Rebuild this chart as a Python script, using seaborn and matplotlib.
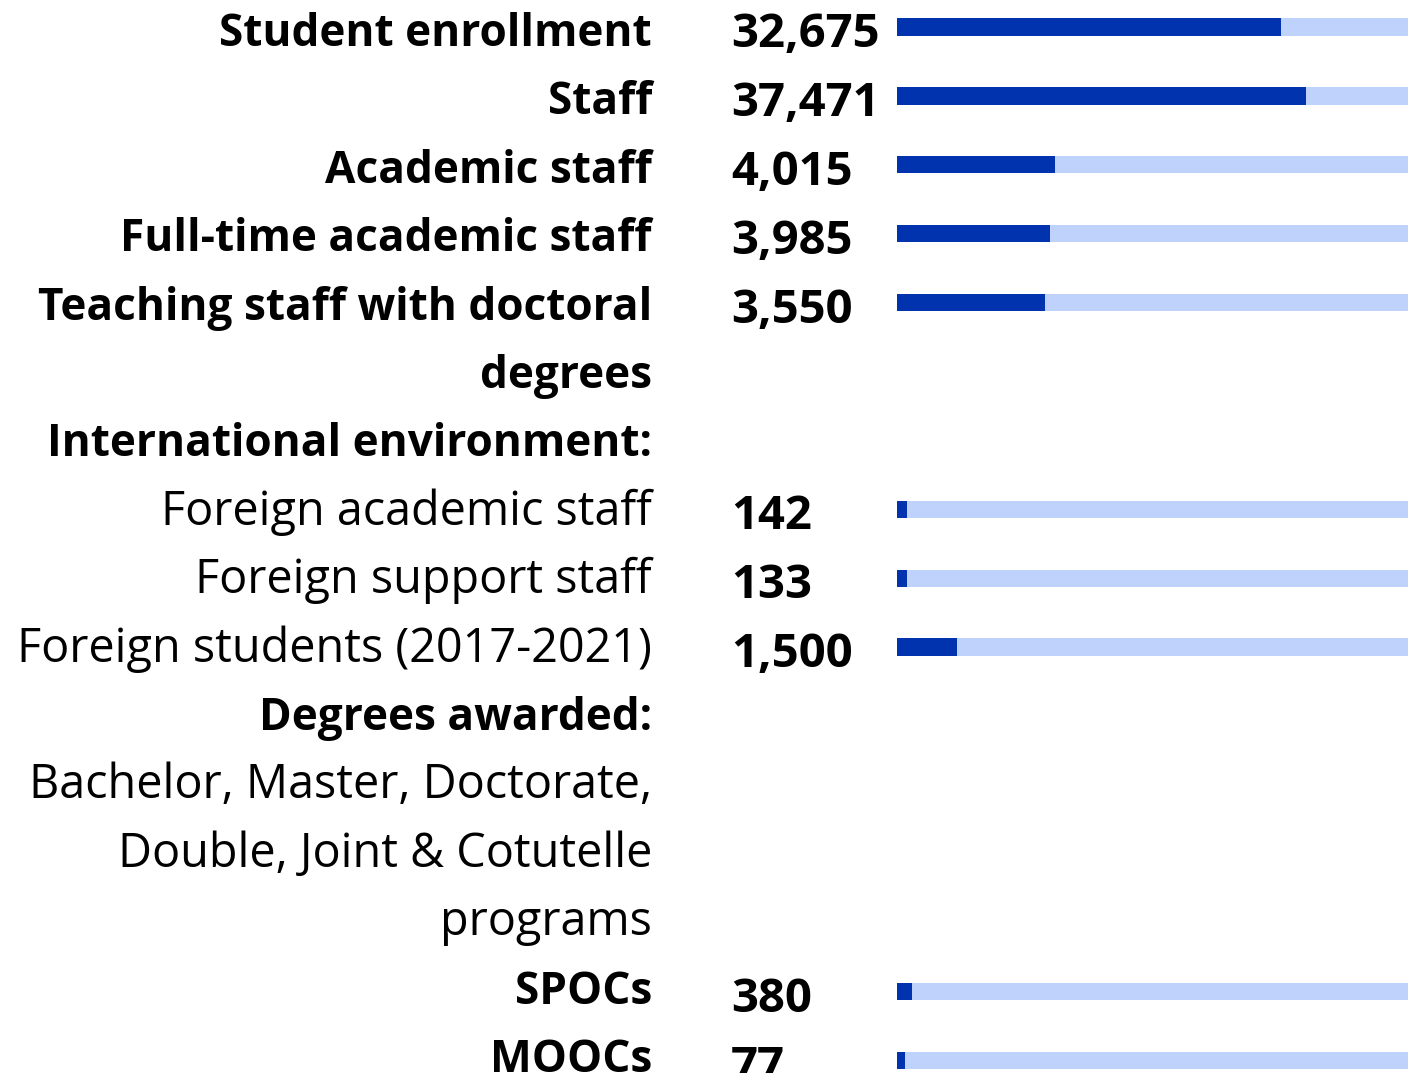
import matplotlib
matplotlib.use("Agg")
import matplotlib.pyplot as plt
import seaborn as sns
import pandas as pd

# ---- data ----
label_lines = [
    "Student enrollment", "Staff", "Academic staff", "Full-time academic staff",
    "Teaching staff with doctoral", "degrees", "International environment:",
    "Foreign academic staff", "Foreign support staff", "Foreign students (2017-2021)",
    "Degrees awarded:", "Bachelor, Master, Doctorate,", "Double, Joint & Cotutelle",
    "programs", "SPOCs", "MOOCs",
]
label_bold = [True, True, True, True, True, True, True,
              False, False, False, True, False, False, False, True, True]

value_rows = [0, 1, 2, 3, 4, 7, 8, 9, 14, 15]
values = [32675, 37471, 4015, 3985, 3550, 142, 133, 1500, 380, 77]
# share of the track filled by the dark bar (percent)
fill_pct = [75.1, 80.0, 31.0, 29.9, 29.0, 2.0, 2.0, 11.7, 2.9, 1.6]

DARK = "#0033ad"
LIGHT = "#bfd2fb"

sns.set_theme(style="white")
plt.rcParams["font.family"] = ["Open Sans", "DejaVu Sans"]

W, H = 1408, 1073
fig = plt.figure(figsize=(W / 100, H / 100), dpi=100)
fig.patch.set_facecolor("white")

# bar axes
bar_c0, bar_step = 27.0, 68.9
x0 = 897
ax = fig.add_axes([x0 / W, 0, (W - x0) / W, 1])
df = pd.DataFrame({"row": value_rows, "full": [100] * len(values), "fill": fill_pct})
sns.barplot(data=df, x="full", y="row", orient="h", native_scale=True, color=LIGHT,
            saturation=1, errorbar=None, width=0.25, linewidth=0, ax=ax)
sns.barplot(data=df, x="fill", y="row", orient="h", native_scale=True, color=DARK,
            saturation=1, errorbar=None, width=0.25, linewidth=0, ax=ax)
ax.set_xlim(0, 100)
ax.set_ylim((H - bar_c0) / bar_step, -bar_c0 / bar_step)
ax.axis("off")

FS_BOLD, FS_REG, FS_VAL = 31.8, 33.7, 34
# labels
lab_base0, lab_step = 46.0, 68.4
for i, (t, b) in enumerate(zip(label_lines, label_bold)):
    y = 1 - (lab_base0 + lab_step * i) / H
    fig.text(652 / W, y, t, ha="right", va="baseline",
             fontsize=FS_BOLD if b else FS_REG,
             fontweight="bold" if b else "normal", color="black")

# values
val_base0, val_step = 47.0, 68.9
for r, v in zip(value_rows, values):
    y = 1 - (val_base0 + val_step * r) / H
    fig.text(731 / W, y, f"{v:,}", ha="left", va="baseline", fontsize=FS_VAL,
             fontweight="bold", color="black")

fig.savefig("out.png", dpi=100, facecolor="white")
